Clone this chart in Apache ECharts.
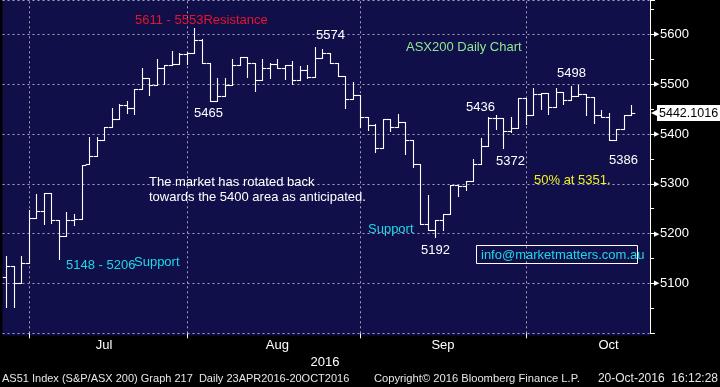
<!DOCTYPE html>
<html><head><meta charset="utf-8">
<script src="https://cdn.jsdelivr.net/npm/echarts@6/dist/echarts.min.js"></script>
<style>html,body{margin:0;padding:0;background:#000;}#c{width:720px;height:387px;}</style>
</head><body><div id="c"></div>
<script>
// ---- data ----
const dates = [
 '2016-06-27','2016-06-28','2016-06-29','2016-06-30',
 '2016-07-01','2016-07-04','2016-07-05','2016-07-06','2016-07-07','2016-07-08','2016-07-11','2016-07-12','2016-07-13','2016-07-14','2016-07-15','2016-07-18','2016-07-19','2016-07-20','2016-07-21','2016-07-22','2016-07-25','2016-07-26','2016-07-27','2016-07-28','2016-07-29',
 '2016-08-01','2016-08-02','2016-08-03','2016-08-04','2016-08-05','2016-08-08','2016-08-09','2016-08-10','2016-08-11','2016-08-12','2016-08-15','2016-08-16','2016-08-17','2016-08-18','2016-08-19','2016-08-22','2016-08-23','2016-08-24','2016-08-25','2016-08-26','2016-08-29','2016-08-30','2016-08-31',
 '2016-09-01','2016-09-02','2016-09-05','2016-09-06','2016-09-07','2016-09-08','2016-09-09','2016-09-12','2016-09-13','2016-09-14','2016-09-15','2016-09-16','2016-09-19','2016-09-20','2016-09-21','2016-09-22','2016-09-23','2016-09-26','2016-09-27','2016-09-28','2016-09-29','2016-09-30',
 '2016-10-03','2016-10-04','2016-10-05','2016-10-06','2016-10-07','2016-10-10','2016-10-11','2016-10-12','2016-10-13','2016-10-14','2016-10-17','2016-10-18','2016-10-19','2016-10-20'
];
const opens = [5112,5136,5101,5142,5232,5246,5282,5228,5196,5228,5230,5339,5355,5388,5413,5430,5458,5452,5490,5513,5498,5533,5538,5540,5560,5563,5589,5542,5466,5476,5498,5538,5555,5543,5508,5532,5541,5532,5538,5508,5528,5515,5553,5563,5542,5517,5470,5479,5433,5417,5372,5430,5413,5423,5387,5339,5220,5208,5228,5240,5297,5295,5305,5340,5375,5432,5432,5405,5411,5473,5437,5480,5483,5455,5485,5468,5477,5480,5475,5437,5433,5388,5410,5437];
const highs = [5155,5136,5156,5248,5279,5282,5282,5228,5244,5239,5338,5393,5393,5413,5452,5460,5467,5490,5533,5513,5550,5538,5567,5562,5565,5612,5591,5542,5512,5512,5550,5555,5555,5543,5550,5543,5550,5538,5547,5537,5538,5575,5570,5563,5543,5517,5505,5479,5433,5420,5430,5430,5440,5423,5387,5339,5277,5228,5240,5297,5297,5305,5349,5392,5433,5437,5432,5433,5473,5473,5492,5483,5483,5492,5485,5497,5499,5480,5475,5448,5442,5410,5437,5459];
const lows = [5053,5053,5101,5142,5232,5220,5222,5150,5196,5218,5230,5339,5355,5388,5413,5430,5441,5440,5490,5478,5498,5500,5538,5540,5540,5563,5542,5466,5466,5476,5498,5538,5515,5487,5508,5513,5532,5510,5501,5508,5512,5515,5553,5542,5517,5453,5470,5413,5408,5363,5372,5405,5413,5360,5333,5219,5208,5193,5207,5240,5275,5287,5305,5340,5375,5410,5372,5403,5411,5420,5437,5450,5440,5455,5460,5468,5477,5437,5422,5433,5388,5388,5410,5437];
const closes = [5136,5101,5142,5232,5246,5282,5228,5196,5228,5230,5338,5355,5388,5413,5430,5458,5452,5490,5513,5498,5533,5538,5540,5560,5563,5589,5542,5466,5476,5498,5538,5555,5543,5508,5532,5541,5532,5538,5508,5528,5515,5553,5563,5542,5517,5470,5479,5433,5417,5372,5430,5413,5423,5387,5339,5220,5208,5228,5240,5297,5295,5305,5340,5375,5432,5432,5405,5411,5473,5437,5480,5483,5455,5485,5468,5477,5480,5475,5437,5433,5388,5410,5437,5442];
const lastPrice = 5442.1016;
const monthEnds = ['2016-06-30','2016-07-29','2016-08-31','2016-09-30'];
const monthLabels = {'2016-07-14':'Jul','2016-08-16':'Aug','2016-09-15':'Sep','2016-10-17':'Oct'};
const yearLabel = '2016';
const yTickLabels = [5100,5200,5300,5400,5500,5600];

// ---- chart ----
const FONT = "'Liberation Sans', Arial, sans-serif";
const chart = echarts.init(document.getElementById('c'), null, {renderer:'canvas'});
const ohlc = dates.map((d,i)=>[i, opens[i], highs[i], lows[i], closes[i]]);
const GRID = '#a4a4b8';

function txt(text, x, y, fill, size, align){
  return {type:'text', x:x, y:y, silent:true, z:100,
    style:{text:text, fill:fill, font:(size||13)+'px '+FONT, verticalAlign:'middle', align:align||'left'}};
}

chart.setOption({
  backgroundColor:'#000',
  animation:false,
  grid:{left:2.5, right:70, top:-1, bottom:53.7, show:true, backgroundColor:'#100f4a', borderWidth:0},
  xAxis:{
    type:'category', data:dates, max:85, boundaryGap:true,
    axisLine:{show:false},
    axisTick:{show:true, alignWithLabel:true, length:5, lineStyle:{color:'#fff'},
      interval:(i,v)=>monthEnds.indexOf(v)>=0},
    axisLabel:{color:'#fff', fontFamily:FONT, fontSize:13, margin:6,
      interval:(i,v)=>monthLabels[v]!==undefined, formatter:v=>monthLabels[v]||''},
    splitLine:{show:false}
  },
  yAxis:{
    type:'value', position:'right', min:5000, max:5668.7, interval:100,
    axisLine:{show:true, lineStyle:{color:'#fff', width:1}},
    axisTick:{show:true, length:5, lineStyle:{color:'#fff'}},
    minorTick:{show:true, splitNumber:2, length:4, lineStyle:{color:'#fff'}},
    axisLabel:{color:'#fff', fontFamily:FONT, fontSize:13, margin:4,
      showMaxLabel:false, showMinLabel:false,
      formatter:v=> yTickLabels.indexOf(v)>=0 ? '{t|\u25B6}'+v : '',
      rich:{t:{fontSize:7, color:'#fff', padding:[0,1,0,0]}}},
    splitLine:{show:true, lineStyle:{color:GRID, type:[2,3], width:1}}
  },
  series:[
    {
      type:'custom', data:ohlc, encode:{x:0, y:[1,2,3,4]}, z:10,
      renderItem:function(params, api){
        const i = api.value(0);
        const o = api.coord([i, api.value(1)]);
        const h = api.coord([i, api.value(2)]);
        const l = api.coord([i, api.value(3)]);
        const c = api.coord([i, api.value(4)]);
        const w = api.size([1,0])[0]*0.5;
        const x = Math.round(h[0]) + 0.5;
        const yo = Math.round(o[1]) + 0.5, yc = Math.round(c[1]) + 0.5;
        const st = {stroke:'#fff', lineWidth:1.1};
        return {type:'group', children:[
          {type:'line', shape:{x1:x, y1:Math.round(h[1]), x2:x, y2:Math.round(l[1])+1}, style:st},
          {type:'line', shape:{x1:x-w, y1:yo, x2:x, y2:yo}, style:st},
          {type:'line', shape:{x1:x, y1:yc, x2:x+w, y2:yc}, style:st}
        ]};
      }
    },
    {
      type:'line', data:[], silent:true,
      markLine:{silent:true, symbol:['none','none'], animation:false,
        lineStyle:{color:GRID, type:[2,3], width:1}, label:{show:false},
        data: monthEnds.map(d=>({xAxis:d}))}
    },
    {
      type:'line', data:[], silent:true,
      markLine:{silent:true, symbol:['none','none'], animation:false,
        lineStyle:{color:'rgba(0,0,0,0)', width:0},
        label:{show:true, position:'end', distance:1, formatter:'{a|\u25C0}{b|'+lastPrice+'}',
          fontFamily:FONT, fontSize:12.5,
          rich:{a:{color:'#fff', fontSize:8, padding:[0,0,0,0]},
                b:{color:'#000', backgroundColor:'#fff', padding:[2,2,1,2], fontFamily:FONT, fontSize:12.5}}},
        data:[{yAxis:lastPrice}]}
    }
  ],
  graphic:[
    {type:'rect', shape:{x:2.5, y:333, width:647.5, height:2.5}, style:{fill:'#100f4a'}, z:-1, silent:true},
    txt('5611 - 5553Resistance', 135, 20, '#e8142c'),
    txt('5574', 316, 35, '#ffffff'),
    txt('ASX200 Daily Chart', 406, 47, '#8fe88f'),
    txt('5465', 194, 113, '#ffffff'),
    txt('5498', 557, 73, '#ffffff'),
    txt('5436', 466, 107, '#ffffff'),
    txt('5372', 496, 161, '#ffffff'),
    txt('5386', 609, 160, '#ffffff'),
    txt('50% at 5351.', 534, 180, '#f2f21e'),
    txt('The market has rotated back', 149, 182, '#ffffff'),
    txt('towards the 5400 area as anticipated.', 149, 197, '#ffffff'),
    txt('Support', 368, 229, '#1ed8e6'),
    txt('5192', 421, 250, '#ffffff'),
    txt('5148 - 5206', 66, 265, '#1ed8e6'),
    txt('Support', 134, 262, '#1ed8e6'),
    {type:'rect', shape:{x:476.5, y:245.5, width:161, height:18}, style:{fill:'none', stroke:'#fff', lineWidth:1}, z:99, silent:true},
    txt('info@marketmatters.com.au', 481, 255, '#1ed8e6'),
    txt(yearLabel, 325, 362, '#ffffff', 13, 'center'),
    txt('AS51 Index (S&P/ASX 200) Graph 217  Daily 23APR2016-20OCT2016', 2, 379, '#e6e6e6', 11),
    txt('Copyright\u00A9 2016 Bloomberg Finance L.P.', 374, 379, '#e6e6e6', 11.2),
    txt('20-Oct-2016  16:12:28', 718, 379, '#e6e6e6', 12, 'right')
  ]
});
</script>
</body></html>
